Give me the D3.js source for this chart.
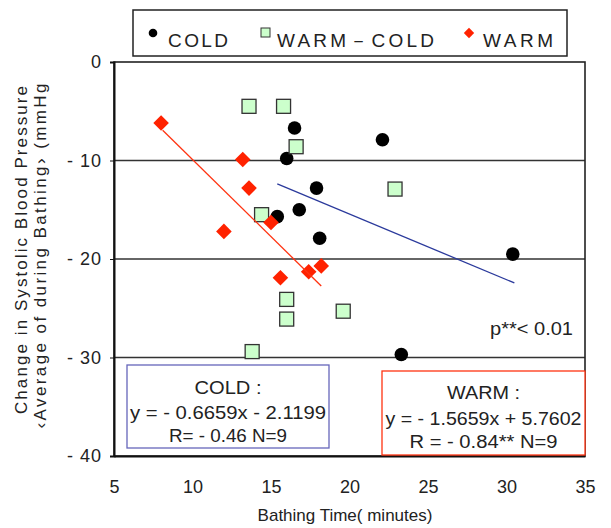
<!DOCTYPE html>
<html><head><meta charset="utf-8">
<script src="https://cdn.jsdelivr.net/npm/d3@7"></script>
<style>
body{margin:0;background:#fff;}
text{font-family:"Liberation Sans","DejaVu Sans",sans-serif;fill:#222;}
</style></head>
<body><svg id="c" width="611" height="528"></svg>
<script>
// data
const coldX = [16.5, 16.0, 17.9, 16.8, 15.4, 18.1, 22.1, 30.4, 23.3];
const coldY = [-6.7, -9.8, -12.8, -15.0, -15.7, -17.9, -7.9, -19.5, -29.7];
const diffX = [13.6, 15.8, 16.6, 14.4, 22.9, 16.0, 16.0, 19.6, 13.8];
const diffY = [-4.5, -4.5, -8.6, -15.5, -12.9, -24.1, -26.1, -25.3, -29.4];
const warmX = [8.0, 13.2, 13.6, 15.0, 12.0, 15.6, 17.4, 18.2];
const warmY = [-6.2, -9.9, -12.8, -16.3, -17.2, -21.9, -21.3, -20.7];
const trendNames = ["COLD", "WARM"];
const trendSlope = [-0.6659, -1.5659];
const trendIntercept = [-2.1199, 5.7602];
const trendFrom = [15.4, 8.1];
const trendTo = [30.5, 18.2];
const xTicks = [5, 10, 15, 20, 25, 30, 35];
const yTicks = [0, -10, -20, -30, -40];
const legendLabels = ["COLD", "WARM－COLD", "WARM"];

const svg = d3.select("#c");
const L = 114, T = 62, R = 585, B = 456;
const x = d3.scaleLinear().domain([5, 35]).range([L, R]);
const y = d3.scaleLinear().domain([-40, 0]).range([B, T]);

// grid
svg.append("g").selectAll("line").data([-10, -20, -30]).join("line")
  .attr("x1", L).attr("x2", R).attr("y1", d => y(d)).attr("y2", d => y(d))
  .attr("stroke", "#333").attr("stroke-width", 1.3);

// frame
svg.append("rect").attr("x", L).attr("y", T).attr("width", R - L).attr("height", B - T)
  .attr("fill", "none").attr("stroke", "#222").attr("stroke-width", 1.6);

// axes
const yAxis = d3.axisLeft(y).tickValues(yTicks).tickSize(4)
  .tickFormat(d => d === 0 ? "0" : "- " + Math.abs(d));
const gy = svg.append("g").attr("transform", `translate(${L},0)`).call(yAxis);
gy.select(".domain").attr("stroke", "#111").attr("stroke-width", 2);
gy.selectAll(".tick line").attr("stroke", "#111");
gy.selectAll("text").attr("font-size", 18).attr("x", -12).attr("fill", "#333")
  .style("letter-spacing", "1px")
  .style("font-family", "Liberation Sans, sans-serif");

const xAxis = d3.axisBottom(x).tickValues(xTicks).tickSize(0).tickFormat(d3.format("d"));
const gx = svg.append("g").attr("transform", `translate(0,${B})`).call(xAxis);
gx.select(".domain").attr("stroke", "#111").attr("stroke-width", 2);
gx.selectAll("text").attr("font-size", 18).attr("y", 24).attr("fill", "#333")
  .style("font-family", "Liberation Sans, sans-serif");

// markers
const cold = coldX.map((v, i) => [v, coldY[i]]);
const diff = diffX.map((v, i) => [v, diffY[i]]);
const warm = warmX.map((v, i) => [v, warmY[i]]);

svg.append("g").selectAll("circle").data(cold).join("circle")
  .attr("cx", d => x(d[0])).attr("cy", d => y(d[1])).attr("r", 6.8).attr("fill", "#000");
svg.append("g").selectAll("rect").data(diff).join("rect")
  .attr("x", d => x(d[0]) - 7).attr("y", d => y(d[1]) - 7).attr("width", 14).attr("height", 14)
  .attr("fill", "#ccffcc").attr("stroke", "#333").attr("stroke-width", 1.3);
const diaPath = s => `M0,${-s}L${s},0L0,${s}L${-s},0Z`;
svg.append("g").selectAll("path").data(warm).join("path")
  .attr("d", diaPath(7.8)).attr("transform", d => `translate(${x(d[0])},${y(d[1])})`)
  .attr("fill", "#ff2200");

// trend lines
const trendColors = ["#2b3a9c", "#ff3311"];
trendNames.forEach((n, i) => {
  svg.append("line")
    .attr("x1", x(trendFrom[i])).attr("y1", y(trendSlope[i] * trendFrom[i] + trendIntercept[i]))
    .attr("x2", x(trendTo[i])).attr("y2", y(trendSlope[i] * trendTo[i] + trendIntercept[i]))
    .attr("stroke", trendColors[i]).attr("stroke-width", 1.3);
});

// p text
svg.append("text").attr("x", 490).attr("y", 335).attr("font-size", 18).attr("fill", "#333")
  .attr("textLength", 83).attr("lengthAdjust", "spacingAndGlyphs").text("p**< 0.01");

// equation boxes
function eqBox(x0, y0, w, h, col, lines, ys, lens) {
  svg.append("rect").attr("x", x0).attr("y", y0).attr("width", w).attr("height", h)
    .attr("fill", "#fff").attr("stroke", col).attr("stroke-width", 1.3);
  lines.forEach((t, i) => svg.append("text").attr("x", x0 + w / 2).attr("y", ys[i])
    .attr("text-anchor", "middle").attr("font-size", 18).attr("fill", "#222")
    .attr("textLength", lens[i]).attr("lengthAdjust", "spacingAndGlyphs").text(t));
}
eqBox(127, 365, 202, 83, "#6666bb", ["COLD :", "y = - 0.6659x -  2.1199", "R= - 0.46 N=9"], [394, 419, 442], [67, 196, 118]);
eqBox(382, 371, 203, 84, "#ff3311", ["WARM :", "y = - 1.5659x + 5.7602", "R = - 0.84** N=9"], [399, 425, 448], [73, 196, 148]);

// axis titles
svg.append("text").attr("x", 345).attr("y", 521).attr("text-anchor", "middle").attr("font-size", 17)
  .attr("fill", "#333").text("Bathing Time( minutes)");
const yl = svg.append("text").attr("transform", "translate(27,250) rotate(-90)")
  .attr("text-anchor", "middle").attr("font-size", 17).attr("fill", "#333");
yl.append("tspan").attr("x", 0).attr("y", 0).attr("textLength", 328).attr("lengthAdjust", "spacing")
  .text("Change in Systolic Blood Pressure");
yl.append("tspan").attr("x", -6).attr("y", 19).attr("textLength", 345).attr("lengthAdjust", "spacing")
  .text("‹Average of during Bathing› (mmHg");

// legend
svg.append("rect").attr("x", 133).attr("y", 10).attr("width", 434).attr("height", 46)
  .attr("fill", "#fff").attr("stroke", "#222").attr("stroke-width", 1.5);
const lg = svg.append("g").attr("font-size", 19);
lg.append("circle").attr("cx", 153).attr("cy", 33).attr("r", 4.3).attr("fill", "#000");
lg.append("rect").attr("x", 261).attr("y", 28).attr("width", 9).attr("height", 9)
  .attr("fill", "#ccffcc").attr("stroke", "#333");
lg.append("path").attr("d", diaPath(5.2))
  .attr("transform", "translate(469,33)").attr("fill", "#ff2200");
const lx = [168, 277, 483];
const lw = [60, 157, 70];
legendLabels.forEach((t, i) => lg.append("text").attr("x", lx[i]).attr("y", 47)
  .attr("textLength", lw[i]).attr("lengthAdjust", "spacing").attr("fill", "#333").text(t));
</script></body></html>
